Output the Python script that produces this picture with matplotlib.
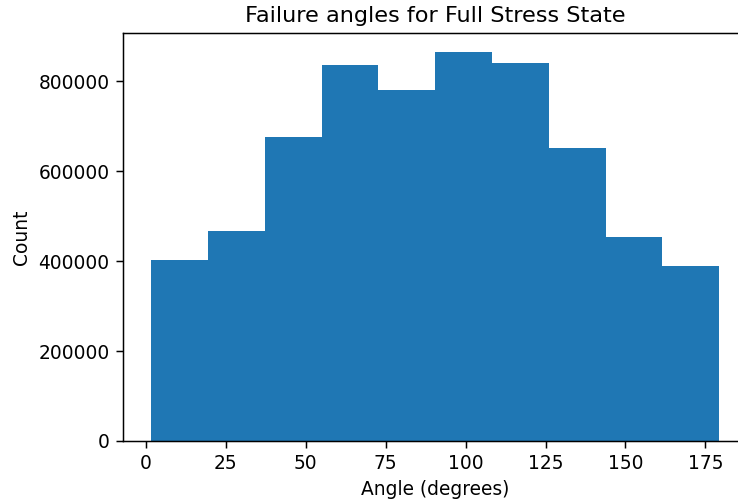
#!/usr/bin/env python3
""" Histogram of failure angles for the full stress state.
"""
import numpy as np
import matplotlib
matplotlib.use('Agg')
import matplotlib.pyplot as plt

# bin edges (degrees) and counts per bin
bin_edges = np.linspace(1.7, 179.3, 11)
counts = [402000, 466000, 676000, 835000, 781000,
          864000, 841000, 652000, 453000, 390000]

title = 'Failure angles for Full Stress State'
xlabel = 'Angle (degrees)'
ylabel = 'Count'


def main() -> None:
    dpi = 134
    fig = plt.figure(figsize=(738 / dpi, 503 / dpi), dpi=dpi)
    # axes runs a little past the right edge of the canvas
    ax = fig.add_axes([0.1663, 0.1233, 0.8467, 0.8111])
    ax.hist(bin_edges[:-1], bins=bin_edges, weights=counts)
    ax.set_title(title)
    ax.set_xlabel(xlabel)
    ax.set_ylabel(ylabel)
    ax.set_xticks([0, 25, 50, 75, 100, 125, 150, 175])
    fig.savefig('out.png', dpi=dpi)


if __name__ == "__main__":
    main()
